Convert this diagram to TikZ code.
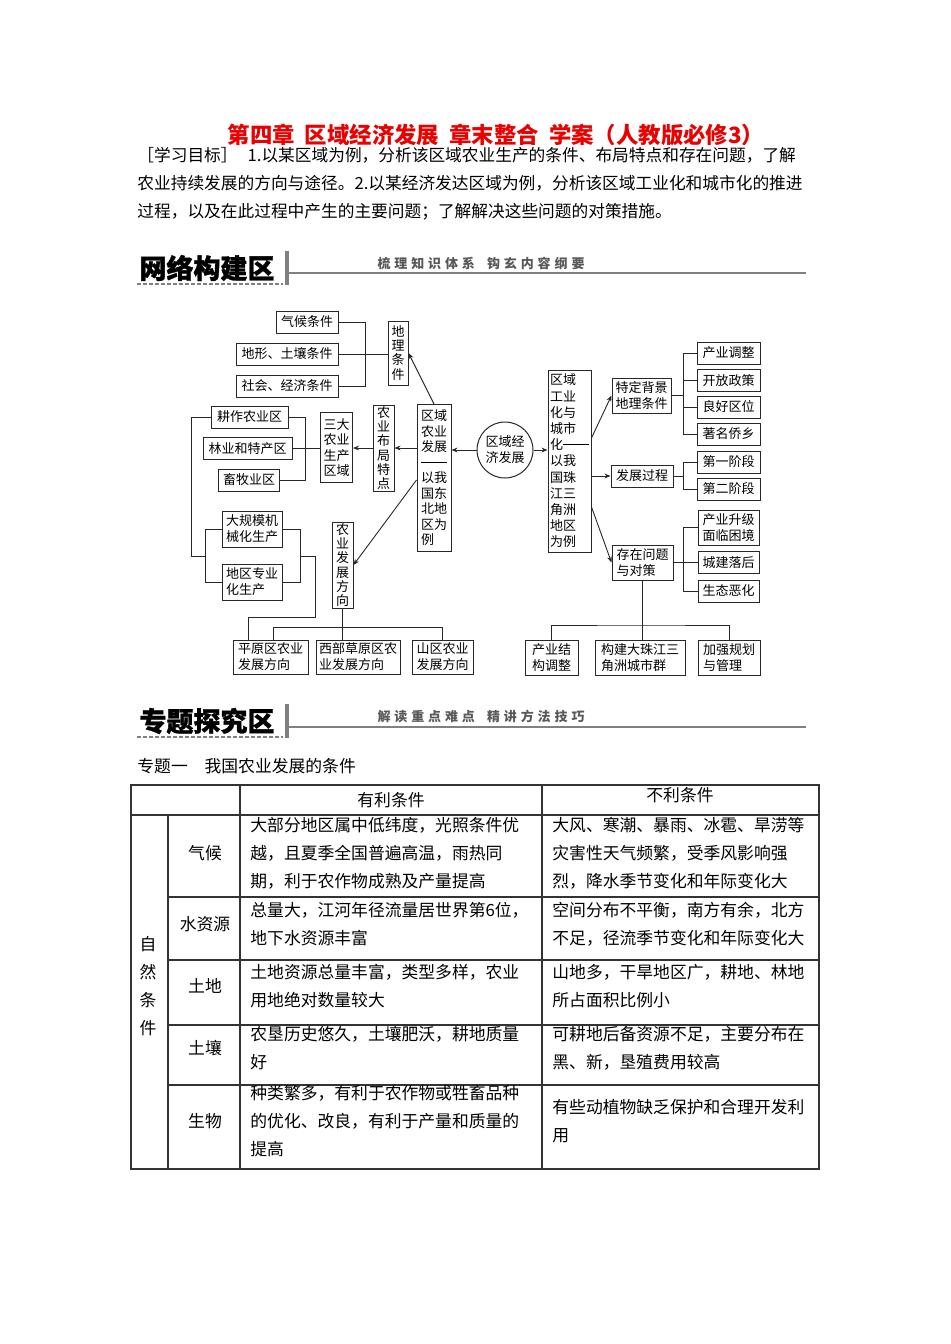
\documentclass[tikz,border=0pt]{standalone}
\usepackage{fontspec}
\usepackage{tikz}
\usetikzlibrary{arrows.meta, positioning, calc}
\setmainfont{Noto Sans CJK SC}
\newfontfamily\subfont[LetterSpace=30]{Noto Sans CJK SC}
\newfontfamily\bandfont[BoldFeatures={FakeBold=1.2}]{Noto Sans CJK SC}
\definecolor{titlered}{RGB}{235,0,0}
\definecolor{linegray}{RGB}{128,128,128}
\definecolor{inkgray}{RGB}{40,40,40}
\newcommand{\diagfont}{\fontsize{6.5}{8}\selectfont}
\newcommand{\vtxtfont}{\fontsize{6.5}{7.05}\selectfont}
\newcommand{\cellfont}{\fontsize{8.4}{14}\selectfont}
\newcommand{\dashbar}[1]{\rule[2.3pt]{#1}{0.45pt}}
\tikzset{
    kbox/.style={rectangle, draw=inkgray, line width=0.5pt, inner sep=0pt,
                 align=left, font=\diagfont, text=black},
    vbox/.style={kbox, font=\vtxtfont, align=center},
    wh/.style 2 args={minimum width=#1*0.5pt, minimum height=#2*0.5pt},
    arrow/.style={-{Stealth[length=3pt,width=2.4pt]}, line width=0.45pt, draw=inkgray},
    link/.style={line width=0.45pt, draw=inkgray},
    tline/.style={line width=0.55pt, draw=black!80},
    cell/.style={anchor=north west, inner sep=0pt, align=left, font=\cellfont},
    rowlbl/.style={inner sep=0pt, font=\cellfont, align=center},
    bandtitle/.style={font=\fontsize{13.5}{14}\bandfont\bfseries, inner sep=0pt},
    bandsub/.style={font=\fontsize{6.5}{7}\subfont\bfseries, text=black!65, inner sep=0pt},
    bandline/.style={draw=linegray, line width=0.8pt},
    bandbar/.style={draw=linegray, line width=1.6pt},
    banddash/.style={draw=linegray, line width=0.6pt, dash pattern=on 2pt off 1pt},
}

\begin{document}
\begin{tikzpicture}[x=0.5pt, y=-0.5pt]
    \useasboundingbox[fill=white] (0,0) rectangle (950,1344);

    \node[font=\fontsize{11.2}{12}\selectfont\bfseries, text=titlered, inner sep=0pt] (title) at (496,135)
        {第四章\hspace{0.45em}区域经济发展\hspace{0.45em}章末整合\hspace{0.45em}学案（人教版必修3）};
    \node[anchor=north west, inner sep=0pt, align=left, font=\fontsize{8.35}{14}\selectfont] (goal) at (137,147)
        {［学习目标］\hspace{0.6em}1.以某区域为例，分析该区域农业生产的条件、布局特点和存在问题，了解\\
         农业持续发展的方向与途径。2.以某经济发达区域为例，分析该区域工业化和城市化的推进\\
         过程，以及在此过程中产生的主要问题；了解解决这些问题的对策措施。};

    % band 1
    \node[bandtitle] (band1) at (207,268) {网络构建区};
    \draw[banddash] (137,284) -- (283,284);
    \draw[bandbar] (287,251) -- (287,285);
    \draw[bandline] (289,273) -- (806,273);
    \node[bandsub] (band1sub) at (481,263) {梳理知识体系\hspace{6pt}钩玄内容纲要};

    % left half of the map
    \node[kbox, wh={62}{22}] (qhtj) at (307,322) {气候条件};
    \node[kbox, wh={102}{22}] (dxtr) at (287,354) {地形、土壤条件};
    \node[kbox, wh={102}{22}] (shjj) at (287,386) {社会、经济条件};
    \node[vbox, wh={20}{64}] (dltj) at (398,353) {地\\理\\条\\件};
    \node[vbox, align=left, font=\fontsize{6.5}{7.75}\selectfont, wh={34}{147}] (nyfz) at (434,478)
        {区域\\农业\\发展\\\dashbar{13pt}\\以我\\国东\\北地\\区为\\例};
    \node[vbox, wh={21}{86}] (bjtd) at (383.5,448) {农\\业\\布\\局\\特\\点};
    \node[vbox, font=\fontsize{6.5}{7.8}\selectfont, wh={32}{70}] (sdqy) at (336.5,447.5) {三大\\农业\\生产\\区域};
    \node[kbox, wh={77}{22}] (gzq) at (249.5,417) {耕作农业区};
    \node[kbox, wh={89}{22}] (lyq) at (247.5,448.5) {林业和特产区};
    \node[kbox, wh={61}{22}] (xmq) at (249,480) {畜牧业区};
    \node[kbox, wh={60}{36}] (jxh) at (252,529) {大规模机\\械化生产};
    \node[kbox, wh={60}{36}] (zyh) at (252,582) {地区专业\\化生产};
    \node[vbox, wh={21}{86}] (fzfx) at (342.5,565) {农\\业\\发\\展\\方\\向};
    \node[kbox, wh={75}{34}] (pyfx) at (270.5,657) {平原区农业\\发展方向};
    \node[kbox, wh={84}{34}] (cyfx) at (358,657) {西部草原区农\\业发展方向};
    \node[kbox, wh={61}{34}] (sqfx) at (442.5,657) {山区农业\\发展方向};

    \node[circle, draw=inkgray, line width=0.5pt, minimum size=56*0.5pt, inner sep=0pt,
          align=center, font=\diagfont] (qyjj) at (505,450) {区域经\\济发展};

    % right half of the map
    \node[vbox, align=left, font=\fontsize{6.5}{8.1}\selectfont, wh={43}{182}] (gyh) at (569.5,461)
        {区域\\工业\\化与\\城市\\化\dashbar{13pt}\\以我\\国珠\\江三\\角洲\\地区\\为例};
    \node[kbox, wh={59}{35}] (tdbj) at (641.5,395.5) {特定背景\\地理条件};
    \node[kbox, wh={62}{22}] (fzgc) at (642,476) {发展过程};
    \node[kbox, wh={61}{35}] (czwt) at (642.5,562.5) {存在问题\\与对策};
    \node[kbox, wh={63}{22}] (cytz) at (728.5,353) {产业调整};
    \node[kbox, wh={63}{22}] (kfzc) at (728.5,380.5) {开放政策};
    \node[kbox, wh={63}{22}] (lhqw) at (728.5,407) {良好区位};
    \node[kbox, wh={63}{22}] (zmqx) at (728.5,434) {著名侨乡};
    \node[kbox, wh={63}{22}] (dyjd) at (728.5,462) {第一阶段};
    \node[kbox, wh={63}{22}] (dejd) at (728.5,489) {第二阶段};
    \node[kbox, wh={61}{35}] (cysj) at (728.5,527.5) {产业升级\\面临困境};
    \node[kbox, wh={61}{22}] (cjlh) at (728.5,562.5) {城建落后};
    \node[kbox, wh={61}{22}] (stoh) at (728.5,591) {生态恶化};
    \node[kbox, wh={53}{35}] (cyjg) at (551.5,657.5) {产业结\\构调整};
    \node[kbox, wh={90}{35}] (gjdz) at (640,657.5) {构建大珠江三\\角洲城市群};
    \node[kbox, wh={62}{35}] (jqgh) at (729,657.5) {加强规划\\与管理};

    \coordinate (gbr) at (365,354);
    \coordinate (sbr) at (305,448);
    \coordinate (jbl) at (205,556);
    \coordinate (jbr) at (300,556);
    \coordinate (pyl) at (248,617);
    \coordinate (fxj) at (273,627);
    \coordinate (rbr) at (683,0);
    \coordinate (wtj) at (642,625);

    \draw[link] (qhtj.east) -- (qhtj.east -| gbr) -- (shjj.east -| gbr) -- (shjj.east);
    \draw[link] (dxtr.east) -- (dxtr.east -| dltj.west);
    \draw[link] (gzq.east) -- (gzq.east -| sbr) -- (xmq.east -| sbr) -- (xmq.east);
    \draw[link] (lyq.east) -- (lyq.east -| sdqy.west);
    \draw[link] (jxh.west) -- (jxh.west -| jbl) -- (zyh.west -| jbl) -- (zyh.west);
    \draw[link] (jxh.east) -- (jxh.east -| jbr) -- (zyh.east -| jbr) -- (zyh.east);
    \draw[link] (gzq.west) -- ++(-19,0) |- (jbl);
    \draw[link] (jbr) -- ++(15,0) |- (pyl) -- (pyl |- pyfx.north);
    \draw[link] (fzfx.south) -- (fzfx.south |- cyfx.north);
    \draw[link] (fxj |- pyfx.north) -- (fxj) -| (sqfx.north);

    \draw[arrow] (nyfz.north) -- (dltj.east);
    \draw[arrow] (bjtd.east -| nyfz.west) -- (bjtd.east);
    \draw[arrow] (bjtd.west) -- (bjtd.west -| sdqy.east);
    \draw[arrow] ($(nyfz.west)+(0,2)$) -- (fzfx.east);
    \draw[arrow] (qyjj.west) -- (qyjj.west -| nyfz.east);
    \draw[arrow] (qyjj.east) -- (qyjj.east -| gyh.west);
    \draw[arrow] ($(gyh.east)+(0,-23)$) -- (tdbj.west);
    \draw[arrow] (gyh.east |- fzgc.west) -- (fzgc.west);
    \draw[arrow] ($(gyh.east)+(0,46)$) -- (czwt.west);

    \foreach \n in {cytz,kfzc,lhqw,zmqx,dyjd,dejd,cysj,cjlh,stoh}
        \draw[link] (\n.west) -- (\n.west -| rbr);
    \draw[link] (cytz.west -| rbr) -- (zmqx.west -| rbr);
    \draw[link] (dyjd.west -| rbr) -- (dejd.west -| rbr);
    \draw[link] (cysj.west -| rbr) -- (stoh.west -| rbr);
    \foreach \n in {tdbj,fzgc,czwt}
        \draw[link] (\n.east) -- (\n.east -| rbr);
    \draw[link] (czwt.south) -- (czwt.south |- gjdz.north);
    \draw[link] (cyjg.north) |- (wtj) -| (jqgh.north);

    % band 2
    \node[bandtitle] (band2) at (207,721) {专题探究区};
    \draw[banddash] (137,737) -- (283,737);
    \draw[bandbar] (287,704) -- (287,738);
    \draw[bandline] (289,727) -- (806,727);
    \node[bandsub] (band2sub) at (481,716) {解读重点难点\hspace{6pt}精讲方法技巧};

    \node[anchor=west, inner sep=0pt, font=\cellfont] (topic) at (137,766) {专题一\hspace{1em}我国农业发展的条件};

    % table
    \draw[tline] (131,785) rectangle (819,1169);
    \draw[tline] (131,815) -- (819,815);
    \foreach \y in {897,960,1025,1085}
        \draw[tline] (168,\y) -- (819,\y);
    \draw[tline] (168,815) -- (168,1169);
    \draw[tline] (240,785) -- (240,1169);
    \draw[tline] (542,785) -- (542,1169);

    \node[rowlbl] (hgood) at (391,800) {有利条件};
    \node[rowlbl] (hbad) at (680,795) {不利条件};
    \node[rowlbl] (nat) at (148,986) {自\\然\\条\\件};
    \node[rowlbl] (rqh) at (205,853) {气候};
    \node[rowlbl] (rsz) at (205,924) {水资源};
    \node[rowlbl] (rtd) at (205,986) {土地};
    \node[rowlbl] (rtr) at (205,1048) {土壤};
    \node[rowlbl] (rsw) at (205,1121) {生物};

    \node[cell] (gqh) at (250,817) {大部分地区属中低纬度，光照条件优\\越，且夏季全国普遍高温，雨热同\\期，利于农作物成熟及产量提高};
    \node[cell] (bqh) at (552,817) {大风、寒潮、暴雨、冰雹、旱涝等\\灾害性天气频繁，受季风影响强\\烈，降水季节变化和年际变化大};
    \node[cell] (gsz) at (250,902) {总量大，江河年径流量居世界第6位，\\地下水资源丰富};
    \node[cell] (bsz) at (552,902) {空间分布不平衡，南方有余，北方\\不足，径流季节变化和年际变化大};
    \node[cell] (gtd) at (250,964) {土地资源总量丰富，类型多样，农业\\用地绝对数量较大};
    \node[cell] (btd) at (552,964) {山地多，干旱地区广，耕地、林地\\所占面积比例小};
    \node[cell] (gtr) at (250,1026) {农垦历史悠久，土壤肥沃，耕地质量\\好};
    \node[cell] (btr) at (552,1026) {可耕地后备资源不足，主要分布在\\黑、新，垦殖费用较高};
    \node[cell] (gsw) at (250,1085) {种类繁多，有利于农作物或牲畜品种\\的优化、改良，有利于产量和质量的\\提高};
    \node[cell] (bsw) at (552,1099) {有些动植物缺乏保护和合理开发利\\用};
\end{tikzpicture}
\end{document}
